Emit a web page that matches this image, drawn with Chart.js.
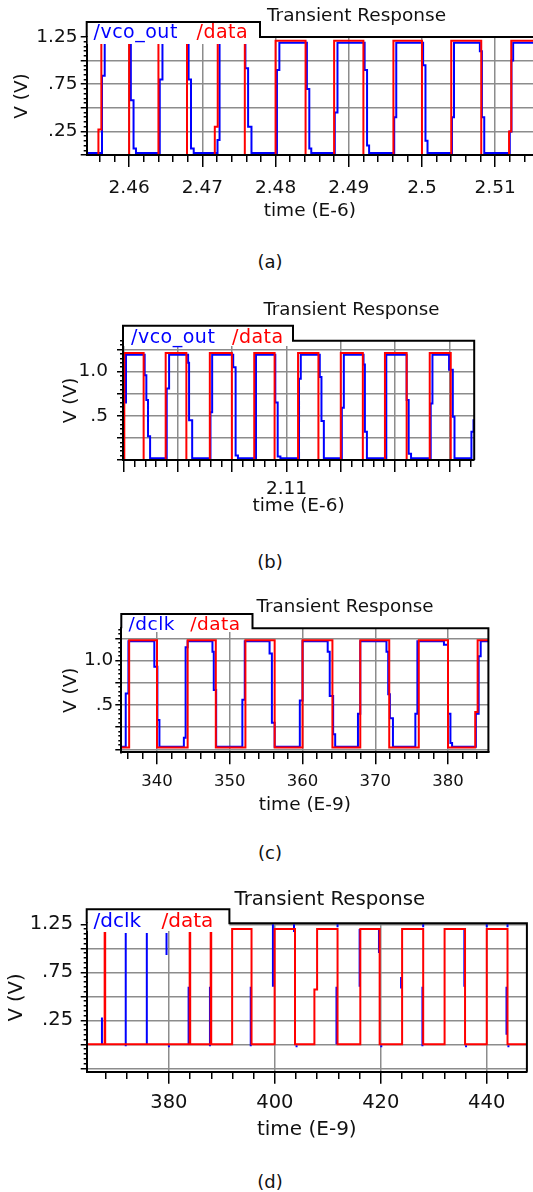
<!DOCTYPE html>
<html>
<head>
<meta charset="utf-8">
<script src="https://cdn.jsdelivr.net/npm/chart.js@4.4.1/dist/chart.umd.min.js"></script>
<style>
  html, body { margin: 0; padding: 0; background: #fff; overflow: hidden; }
  body { position: relative; width: 533px; height: 1192px; }
  canvas { position: absolute; left: 0; }
  .cap { position: absolute; transform: translateX(-50%);
         font: 18px 'DejaVu Sans', sans-serif; line-height: 18px; color: #111; }
</style>
</head>
<body>
<canvas id="chartA" width="548" height="225" style="top:0px"></canvas>
<canvas id="chartB" width="533" height="228" style="top:290px"></canvas>
<canvas id="chartC" width="533" height="230" style="top:590px"></canvas>
<canvas id="chartD" width="533" height="265" style="top:880px"></canvas>
<div class="cap" style="left:270px;top:253px">(a)</div>
<div class="cap" style="left:270px;top:553px">(b)</div>
<div class="cap" style="left:270px;top:844px">(c)</div>
<div class="cap" style="left:270px;top:1173px">(d)</div>
<script>
// ---- panel (a): time in us ----
const aTimeTicks = [2.46, 2.47, 2.48, 2.49, 2.5, 2.51];
const aTimeLabels = ['2.46', '2.47', '2.48', '2.49', '2.5', '2.51'];
const aVoltTicks = [0.25, 0.75, 1.25];
const aVoltLabels = ['.25', '.75', '1.25'];
const aDataT = [2.4540, 2.4558, 2.4562, 2.4600, 2.4640, 2.4679, 2.4717, 2.4721, 2.4758, 2.4800,
  2.4841, 2.4880, 2.4920, 2.4961, 2.5000, 2.5040, 2.5081, 2.5119, 2.5122, 2.5170];
const aDataV = [0, 0.27, 1.21, 0, 1.21, 0, 0.3, 1.21, 0, 1.21,
  0, 1.21, 0, 1.21, 0, 1.21, 0, 0.25, 1.21, 1.21];
const aVcoT = [2.4540, 2.45629, 2.45666, 2.46023, 2.46060, 2.46093, 2.46418, 2.46455, 2.46812, 2.46845,
  2.46882, 2.47207, 2.47235, 2.47588, 2.47625, 2.47671, 2.48019, 2.48052, 2.48428, 2.48461,
  2.48488, 2.48809, 2.48846, 2.49217, 2.49250, 2.49278, 2.49621, 2.49649, 2.50016, 2.50048,
  2.50076, 2.50410, 2.50438, 2.50791, 2.50819, 2.50851, 2.51200, 2.51223, 2.51246, 2.5170];
const aVcoV = [0.02, 0.84, 1.19, 0.58, 0.07, 0.02, 0.8, 1.19, 0.8, 0.07,
  0.02, 0.16, 1.19, 0.92, 0.3, 0.02, 0.9, 1.19, 0.7, 0.07,
  0.02, 0.45, 1.19, 0.9, 0.1, 0.02, 0.4, 1.19, 0.95, 0.15,
  0.02, 0.4, 1.19, 1.1, 0.4, 0.02, 0.25, 1.0, 1.19, 1.19];

// ---- panel (b): time in us ----
const bTimeTicks = [2.11];
const bTimeLabels = ['2.11'];
const bVoltTicks = [0.5, 1.0];
const bVoltLabels = ['.5', '1.0'];
const bDataT = [2.0799, 2.08013, 2.08369, 2.08775, 2.09156, 2.09588, 2.09994, 2.10406, 2.10781,
  2.11213, 2.11588, 2.12, 2.12406, 2.12813, 2.13213, 2.13638, 2.14025, 2.145];
const bDataV = [0, 1.21, 0, 1.21, 0, 1.21, 0, 1.21, 0, 1.21, 0, 1.21, 0, 1.21, 0, 1.21, 0, 0];
const bVcoT = [2.0799, 2.08044, 2.08388, 2.08419, 2.0845, 2.08488, 2.08794, 2.08838, 2.09188, 2.09206,
  2.09263, 2.096, 2.09631, 2.10019, 2.10063, 2.10106, 2.10438, 2.10794, 2.10838, 2.10888,
  2.11231, 2.11263, 2.11613, 2.11644, 2.11688, 2.12019, 2.12056, 2.12419, 2.12444, 2.12481,
  2.12838, 2.13213, 2.1325, 2.13294, 2.13656, 2.13688, 2.13994, 2.14063, 2.14094, 2.14406,
  2.14444, 2.145];
const bVcoV = [0.65, 1.19, 0.96, 0.68, 0.27, 0.02, 0.81, 1.19, 1.1, 0.45,
  0.02, 0.54, 1.19, 1.05, 0.05, 0.02, 1.19, 0.65, 0.04, 0.02,
  0.92, 1.19, 0.94, 0.44, 0.02, 0.59, 1.19, 1.08, 0.32, 0.02,
  1.19, 0.68, 0.07, 0.02, 0.64, 1.19, 1.02, 0.49, 0.02, 0.32,
  0.45, 0.45];

// ---- panel (c): time in ns ----
const cTimeTicks = [340, 350, 360, 370, 380];
const cTimeLabels = ['340', '350', '360', '370', '380'];
const cVoltTicks = [0.5, 1.0];
const cVoltLabels = ['.5', '1.0'];
const cDataT = [335.0, 336.17, 340.0, 344.21, 348.08, 352.15, 356.17, 360.0, 364.11, 367.94,
  371.92, 375.98, 380.0, 383.74, 384.07, 386];
const cDataV = [0.02, 1.23, 0.02, 1.23, 0.02, 1.23, 0.02, 1.23, 0.02, 1.23,
  0.02, 1.23, 0.02, 0.42, 1.23, 1.23];
const cClkT = [335.0, 335.70, 336.07, 339.63, 340.05, 340.33, 343.69, 343.93, 344.21, 347.62,
  347.80, 348.13, 351.73, 352.06, 355.47, 355.79, 356.17, 359.63, 360.0, 363.46,
  363.74, 364.21, 364.49, 367.62, 367.94, 371.54, 371.78, 372.01, 372.43, 375.51,
  375.79, 379.44, 380.0, 380.33, 380.56, 383.83, 384.21, 384.49, 386];
const cClkV = [0.03, 0.63, 1.22, 0.93, 0.33, 0.03, 0.13, 1.15, 1.22, 1.1,
  0.67, 0.03, 0.56, 1.22, 1.08, 0.3, 0.03, 0.55, 1.22, 1.1,
  0.6, 0.17, 0.03, 0.4, 1.22, 1.1, 0.62, 0.35, 0.03, 0.4,
  1.22, 1.18, 0.4, 0.07, 0.03, 0.4, 1.05, 1.22, 1.22];

// ---- panel (d): time in ns ----
const dTimeTicks = [380, 400, 420, 440];
const dTimeLabels = ['380', '400', '420', '440'];
const dVoltTicks = [0.25, 0.75, 1.25];
const dVoltLabels = ['.25', '.75', '1.25'];
const dDataT = [364, 367.87, 367.97, 383.92, 384.02, 387.89, 387.99, 391.94, 395.60, 399.96,
  403.81, 407.47, 407.98, 411.84, 416.14, 419.79, 424.03, 428.01, 432.05, 435.91,
  440.01, 443.93, 451];
const dDataV = [0, 1.16, 0, 1.16, 0, 1.16, 0, 1.2, 0, 1.2,
  0, 0.57, 1.2, 0, 1.2, 0, 1.2, 0, 1.2, 0,
  1.2, 0, 0];
// dclk only shows as short vertical pieces next to the data edges
const dClkT = [367.36, 371.85, 375.83, 379.55, 380.0, 383.72, 387.75, 395.45, 399.64, 403.62,
  404.1, 411.64, 411.84, 416.01, 419.66, 420.1, 423.84, 427.87, 428.01, 435.78,
  436.1, 440.01, 443.74, 443.93, 444.1];
const dClkFrom = [0, -0.02, 0, 1.16, -0.01, 0.6, 0.6, 0.6, 0.6, 1.25,
  -0.01, 0.6, 1.25, 0.6, 1.2, -0.01, 0.7, 0.6, 1.25, 1.2,
  -0.01, 1.25, 0.6, 1.25, -0.01];
const dClkTo = [0.28, 1.16, 1.16, 0.93, -0.03, 0, -0.02, -0.02, 1.25, 1.17,
  -0.03, 0, 1.22, 1.2, 0.95, -0.03, 0.58, -0.02, 1.22, 0.6,
  -0.03, 1.22, 0.1, 1.22, -0.03];

const BLUE = '#0000ff';
const RED = '#ff0000';
const GRID = '#8c8c8c';
const INK = '#111';
const FONT = "'DejaVu Sans', sans-serif";
Chart.defaults.font.family = FONT;
Chart.defaults.color = INK;

function stepTicks(min, max, step) {
  const out = [];
  const n0 = Math.ceil(min / step - 1e-9);
  const n1 = Math.floor(max / step + 1e-9);
  for (let n = n0; n <= n1; n++) out.push(+(n * step).toFixed(6));
  return out;
}
const onStep = (v, step) => Math.abs(v / step - Math.round(v / step)) < 1e-6;
const labelFor = (v, vals, labels) => {
  const i = vals.findIndex(u => Math.abs(u - v) < 1e-7);
  return i < 0 ? '' : labels[i];
};

const stepped = (ts, vs, color, order) => ({
  data: ts.map((t, i) => ({x: t, y: vs[i]})),
  borderColor: color, stepped: true, order: order
});
const pieces = (ts, from, to, color, order) => {
  const pts = [];
  ts.forEach((t, i) => { pts.push({x: t, y: from[i]}, {x: t, y: to[i]}, {x: t, y: null}); });
  return {data: pts, borderColor: color, order: order};
};

// legend tab + title, like the simulator's plot header
function makeTab(t) {
  return {
    id: 'tab',
    afterDraw(chart) {
      const {ctx, chartArea: a} = chart;
      ctx.save();
      ctx.fillStyle = '#fff';
      ctx.fillRect(a.left + 1, t.top, t.right - a.left - 1, t.cover - t.top);
      ctx.strokeStyle = '#000';
      ctx.lineWidth = 2;
      ctx.beginPath();
      ctx.moveTo(a.left, a.top);
      ctx.lineTo(a.left, t.top);
      ctx.lineTo(t.right, t.top);
      ctx.lineTo(t.right, a.top);
      ctx.lineTo(a.right, a.top);
      if (t.frameRight) ctx.lineTo(a.right, a.bottom);
      ctx.stroke();
      ctx.textBaseline = 'middle';
      ctx.textAlign = 'left';
      ctx.font = t.titleSize + 'px ' + FONT;
      ctx.fillStyle = INK;
      ctx.fillText(t.title, t.titleX, t.titleY);
      ctx.font = t.itemSize + 'px ' + FONT;
      ctx.letterSpacing = t.spacing;
      t.items.forEach(([text, color, x]) => {
        ctx.fillStyle = color;
        ctx.fillText(text, x, t.itemY);
      });
      ctx.restore();
    }
  };
}

function drawPanel(id, s) {
  const xs = stepTicks(s.x.min, s.x.max, s.x.minor);
  const ys = stepTicks(s.y.min, s.y.max, 0.05);
  const xMajor = c => c.tick && onStep(c.tick.value, s.x.major);
  const yMajor = c => c.tick && onStep(c.tick.value, 0.25);
  new Chart(document.getElementById(id), {
    type: 'line',
    data: {datasets: s.datasets},
    options: {
      responsive: false,
      animation: false,
      devicePixelRatio: 1,
      events: [],
      layout: {padding: {top: s.area.top, right: s.area.right, bottom: 0, left: 0}},
      elements: {point: {radius: 0}, line: {borderWidth: 2, tension: 0}},
      plugins: {legend: {display: false}, tooltip: {enabled: false}},
      scales: {
        x: {
          type: 'linear', min: s.x.min, max: s.x.max,
          afterBuildTicks: sc => { sc.ticks = xs.map(v => ({value: v})); },
          afterFit: sc => { sc.height = s.area.xAxis; },
          border: {color: '#000', width: 2, z: 1},
          grid: {
            color: c => xMajor(c) ? GRID : 'rgba(0,0,0,0)',
            lineWidth: 1.5, tickLength: 12, tickColor: '#000', tickWidth: 1.5,
            tickBorderDash: c => xMajor(c) ? [] : [6, 40]
          },
          ticks: {
            autoSkip: false, maxRotation: 0, minRotation: 0,
            padding: s.x.pad, color: INK, font: {size: s.x.font},
            callback: v => labelFor(v, s.x.vals, s.x.labels)
          },
          title: {display: true, text: s.x.title, color: INK, font: {size: s.x.titleFont},
                  padding: {top: 0, bottom: s.x.titlePad}}
        },
        y: {
          min: s.y.min, max: s.y.max,
          afterBuildTicks: sc => { sc.ticks = ys.map(v => ({value: v})); },
          afterFit: sc => { sc.width = s.area.yAxis; },
          border: {color: '#000', width: 2, z: 1},
          grid: {
            color: c => yMajor(c) ? GRID : 'rgba(0,0,0,0)',
            lineWidth: 1.5, tickLength: 6, tickColor: '#000', tickWidth: 1.5,
            tickBorderDash: c => yMajor(c) ? [] : [0, 3, 3, 40]
          },
          ticks: {
            autoSkip: false, padding: s.y.pad, color: INK, font: {size: s.y.font},
            callback: v => labelFor(v, s.y.vals, s.y.labels)
          },
          title: {display: true, text: 'V (V)', color: INK, font: {size: s.y.titleFont},
                  padding: {top: s.y.titlePad, bottom: 0}}
        }
      }
    },
    plugins: [makeTab(s.tab)]
  });
}

drawPanel('chartA', {
  area: {top: 37, right: 15, yAxis: 86.7, xAxis: 70},
  x: {min: 2.4542, max: 2.51517, minor: 0.002, major: 0.01, vals: aTimeTicks, labels: aTimeLabels,
      pad: 10, font: 18.5, title: 'time (E-6)', titleFont: 18.5, titlePad: 3},
  y: {min: 0, max: 1.25, vals: aVoltTicks, labels: aVoltLabels, pad: 3.2, font: 18.5, titleFont: 18.5, titlePad: 11},
  tab: {top: 22, cover: 44, right: 260, frameRight: false, title: 'Transient Response', titleSize: 18.5,
        titleX: 267, titleY: 16, itemY: 33, itemSize: 19, spacing: '0.5px',
        items: [['/vco_out', BLUE, 93.5], ['/data', RED, 196.5]]},
  datasets: [stepped(aDataT, aDataV, RED, 0), stepped(aVcoT, aVcoV, BLUE, 1)]
});

drawPanel('chartB', {
  area: {top: 50.7, right: 58.8, yAxis: 123, xAxis: 58},
  x: {min: 2.07989, max: 2.14457, minor: 0.002, major: 0.01, vals: bTimeTicks, labels: bTimeLabels,
      pad: 6, font: 18.5, title: 'time (E-6)', titleFont: 18.5, titlePad: 1},
  y: {min: 0, max: 1.35, vals: bVoltTicks, labels: bVoltLabels, pad: 9, font: 18.5, titleFont: 18.5, titlePad: 60},
  tab: {top: 35.7, cover: 56, right: 293, frameRight: true, title: 'Transient Response', titleSize: 18.2,
        titleX: 263.4, titleY: 20, itemY: 48, itemSize: 19, spacing: '0.5px',
        items: [['/vco_out', BLUE, 131], ['/data', RED, 232]]},
  datasets: [stepped(bDataT, bDataV, RED, 0), stepped(bVcoT, bVcoV, BLUE, 1)]
});

drawPanel('chartC', {
  area: {top: 38.3, right: 44.6, yAxis: 121.3, xAxis: 67.7},
  x: {min: 335.09, max: 385.55, minor: 2, major: 10, vals: cTimeTicks, labels: cTimeLabels,
      pad: 7.5, font: 16.5, title: 'time (E-9)', titleFont: 18.5, titlePad: 4},
  y: {min: -0.034, max: 1.365, vals: cVoltTicks, labels: cVoltLabels, pad: 2, font: 18.5, titleFont: 18.5, titlePad: 60},
  tab: {top: 24, cover: 42, right: 252.5, frameRight: true, title: 'Transient Response', titleSize: 18.3,
        titleX: 256.6, titleY: 17, itemY: 35, itemSize: 18.5, spacing: '0.5px',
        items: [['/dclk', BLUE, 128.5], ['/data', RED, 190.3]]},
  datasets: [stepped(cDataT, cDataV, RED, 0), stepped(cClkT, cClkV, BLUE, 1)]
});

drawPanel('chartD', {
  area: {top: 43.3, right: 6.1, yAxis: 86.7, xAxis: 73.3},
  x: {min: 364.48, max: 447.59, minor: 4, major: 20, vals: dTimeTicks, labels: dTimeLabels,
      pad: 8, font: 19.5, title: 'time (E-9)', titleFont: 20, titlePad: 3.7},
  y: {min: -0.285, max: 1.26, vals: dVoltTicks, labels: dVoltLabels, pad: 7.6, font: 19.5, titleFont: 19.5, titlePad: 5.3},
  tab: {top: 29.3, cover: 51, right: 229.4, frameRight: true, title: 'Transient Response', titleSize: 19.7,
        titleX: 234.5, titleY: 20, itemY: 41.7, itemSize: 20, spacing: '0px',
        items: [['/dclk', BLUE, 93.5], ['/data', RED, 161.5]]},
  datasets: [stepped(dDataT, dDataV, RED, 0), pieces(dClkT, dClkFrom, dClkTo, BLUE, 1)]
});
</script>
</body>
</html>
